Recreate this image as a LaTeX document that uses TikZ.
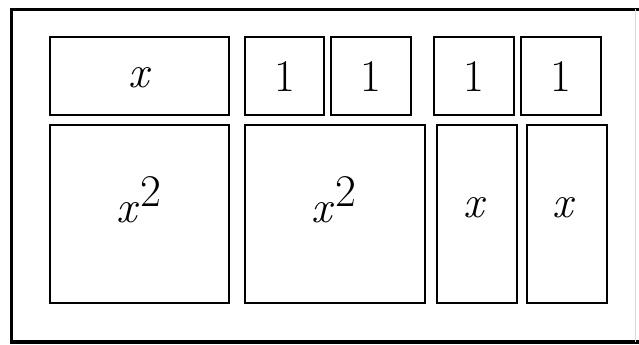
\documentclass[tikz,border=0pt]{standalone}
\usetikzlibrary{positioning}

\newcommand{\sqlabel}{\textit{x}\kern1pt\raisebox{0.36em}{2}}

\begin{document}
\begin{tikzpicture}[
  x=0.75pt, y=-0.75pt,
  tile/.style={draw, line width=1.1pt},
  lbl/.style={anchor=base, inner sep=0pt, font=\fontsize{34}{40}\selectfont}
]
  \useasboundingbox (0,0) rectangle (639,345);

  % Frame
  \draw[line width=2.4pt] (639,9.5) -- (11.5,9.5) -- (11.5,342) -- (639,342);
  \draw[black!15, line width=0.6pt] (635,9.5) -- (635,342);

  % Top row
  \draw[tile] (50,37) rectangle (229,115);
  \draw[tile] (245,37) rectangle (324,115);
  \draw[tile] (331,37) rectangle (411,115);
  \draw[tile] (434,37) rectangle (514,115);
  \draw[tile] (521,37) rectangle (601,115);

  \node[lbl] (tx) at (140,88) {\textit{x}};
  \node[lbl] (one1) at (284.5,92) {1};
  \node[lbl] (one2) at (371,92) {1};
  \node[lbl] (one3) at (474,92) {1};
  \node[lbl] (one4) at (561,92) {1};

  % Bottom row
  \draw[tile] (50,125) rectangle (229,303);
  \draw[tile] (245,125) rectangle (425,303);
  \draw[tile] (437,125) rectangle (517,303);
  \draw[tile] (527,125) rectangle (607,303);

  \node[lbl] (sq1) at (139,223) {\sqlabel};
  \node[lbl] (sq2) at (334,223) {\sqlabel};
  \node[lbl] (bx1) at (475,218) {\textit{x}};
  \node[lbl] (bx2) at (564,218) {\textit{x}};
\end{tikzpicture}
\end{document}
